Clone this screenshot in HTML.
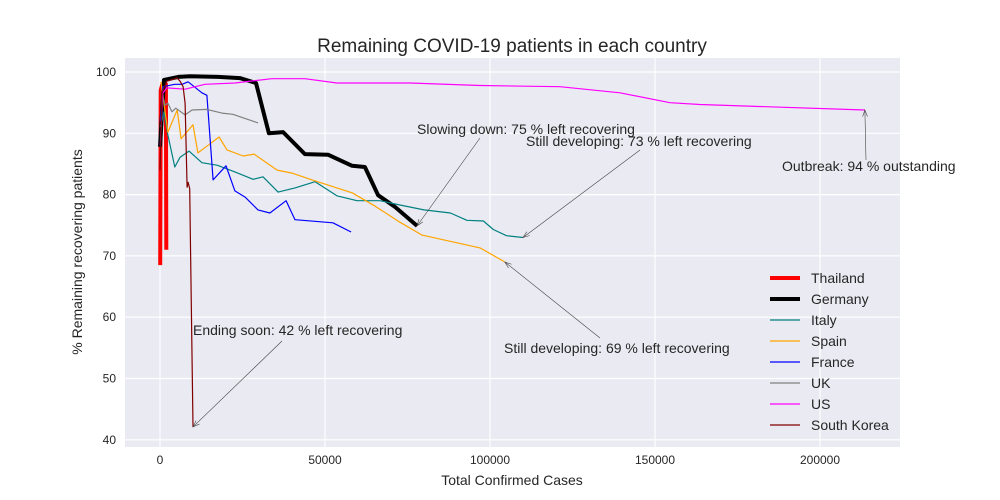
<!DOCTYPE html>
<html><head><meta charset="utf-8"><style>
body{margin:0;background:#fff;}
svg{display:block;font-family:"Liberation Sans",sans-serif;}
</style></head><body>
<svg id="chart" width="1000" height="500"></svg>
<script>
const xTicks=[0,50000,100000,150000,200000];
const yTicks=[40,50,60,70,80,90,100];
const seriesNames=["Thailand","Germany","Italy","Spain","France","UK","US","South Korea"];
const seriesColors=["#ff0000","#000000","#008080","#ffa500","#0000ff","#808080","#ff00ff","#800000"];
const seriesWidths=[4,4,1.2,1.2,1.2,1.2,1.2,1.2];
const thailandX=[50,200,700,1500,1800,1900];
const thailandY=[68.5,97,98,98,98,71];
const germanyX=[0,1200,5500,9100,17600,24200,29100,33000,37300,43900,51000,58200,62100,66100,71200,77900];
const germanyY=[87.8,98.7,99.2,99.3,99.2,99.0,98.2,90.0,90.2,86.6,86.5,84.7,84.5,79.9,78.0,74.9];
const italyX=[100,1200,2400,4500,6100,8800,12700,17300,22700,28200,31200,35800,40900,47000,53600,59700,66700,72700,80000,88000,93000,98000,101000,105000,110000];
const italyY=[91,93.5,89.7,84.5,86.1,87.1,85.2,84.8,83.7,82.5,82.9,80.4,81.1,82.1,79.8,79.0,79.0,78.3,77.5,77.0,75.8,75.7,74.3,73.3,73.0];
const spainX=[300,2400,5200,6400,10000,11500,14200,17900,20300,25200,28500,35500,40000,46100,58200,65200,72700,79400,97000,104500];
const spainY=[98.4,90.2,93.8,89.1,91.4,86.8,87.9,89.4,87.3,86.3,86.6,84.0,83.5,82.4,80.3,78.1,75.5,73.4,71.3,69.0];
const franceX=[100,900,4500,6700,8500,12700,14200,16100,20000,22700,25800,29700,33300,38200,40900,52400,57900];
const franceY=[92,97.6,98.0,98.0,98.4,96.6,96.2,82.4,84.7,80.6,79.6,77.5,77.0,79.0,75.9,75.4,73.9];
const ukX=[300,600,1500,2400,3600,4800,7600,9700,14200,18800,22100,29700];
const ukY=[90,96.6,94.6,94.9,93.5,94.1,93.0,93.8,93.9,93.3,93.1,91.7];
const usX=[100,800,2000,7600,13600,22700,33900,43900,53600,75800,97000,121200,139400,154500,163600,213600];
const usY=[88,96.5,97.4,97.2,98.0,98.2,98.9,98.9,98.2,98.2,97.8,97.6,96.6,95.0,94.7,93.8];
const koreaX=[0,600,2100,5200,6100,7000,7600,8200,8500,9000,10000];
const koreaY=[84,96.6,98.5,99.0,98.5,97.6,94.9,81.2,82,81,42.1];
const allX=[thailandX,germanyX,italyX,spainX,franceX,ukX,usX,koreaX];
const allY=[thailandY,germanyY,italyY,spainY,franceY,ukY,usY,koreaY];
const annoText=["Slowing down: 75 % left recovering","Still developing: 73 % left recovering","Outbreak: 94 % outstanding","Still developing: 69 % left recovering","Ending soon: 42 % left recovering"];
const annoPt=[[77900,74.9],[110000,73.0],[213600,93.8],[104500,69.0],[10000,42.1]];
const annoTxtPos=[[417,134],[526,146],[782,171],[504,353],[193,335]];
const annoTail=[[480,138],[640,150],[866,160],[600,338],[282,341]];

const L=125,R=900,T=58,B=447;
const sx=v=>160+v*165/50000;
const sy=v=>72+(100-v)*6.13;
const svg=document.getElementById('chart');
const NS='http://www.w3.org/2000/svg';
function mk(t,a,p){const e=document.createElementNS(NS,t);for(const k in a)e.setAttribute(k,a[k]);(p||svg).appendChild(e);return e;}
const bg=mk('rect',{x:L,y:T,width:R-L,height:B-T,fill:'#eaeaf2'});


xTicks.forEach(v=>{
  const g=mk('line',{x1:sx(v),x2:sx(v),y1:T,y2:B,stroke:'#fff','stroke-width':1.2});
  
  
  const t=mk('text',{x:sx(v),y:B+17,'text-anchor':'middle','font-size':12,fill:'#262626'});
  t.textContent=v;
  
  
});
yTicks.forEach(v=>{
  const g=mk('line',{x1:L,x2:R,y1:sy(v),y2:sy(v),stroke:'#fff','stroke-width':1.2});
  
  
  const t=mk('text',{x:L-9,y:sy(v)+4,'text-anchor':'end','font-size':12,fill:'#262626'});
  t.textContent=v;
  
  
});
for(let i=0;i<allX.length;i++){
  const pts=allX[i].map((x,j)=>sx(x).toFixed(1)+','+sy(allY[i][j]).toFixed(1)).join(' ');
  const p=mk('polyline',{points:pts,fill:'none',stroke:seriesColors[i],'stroke-width':seriesWidths[i],'stroke-linejoin':'round'});
  
  
}
annoText.forEach((s,i)=>{
  const tx=sx(annoPt[i][0]),ty=sy(annoPt[i][1]);
  const [ax,ay]=annoTail[i];
  const ln=mk('line',{x1:ax,y1:ay,x2:tx,y2:ty,stroke:'#444','stroke-width':0.6});
  
  
  const ang=Math.atan2(ty-ay,tx-ax);
  const h=mk('path',{d:`M${tx-7*Math.cos(ang-0.35)},${ty-7*Math.sin(ang-0.35)} L${tx},${ty} L${tx-7*Math.cos(ang+0.35)},${ty-7*Math.sin(ang+0.35)}`,fill:'none',stroke:'#444','stroke-width':0.6});
  
  
  const t=mk('text',{x:annoTxtPos[i][0],y:annoTxtPos[i][1],'font-size':14,fill:'#262626'});
  t.textContent=s;
  
  
});
seriesNames.forEach((n,i)=>{
  const y=278+i*21;
  const ln=mk('line',{x1:770,x2:800,y1:y,y2:y,stroke:seriesColors[i],'stroke-width':seriesWidths[i]});
  
  
  const t=mk('text',{x:811,y:y+5,'font-size':14,fill:'#262626'});
  t.textContent=n;
  
  
});
const title=mk('text',{x:512,y:52,'text-anchor':'middle','font-size':19,fill:'#262626'});
title.textContent='Remaining COVID-19 patients in each country';


const xt=mk('text',{x:512,y:485,'text-anchor':'middle','font-size':14,fill:'#262626'});
xt.textContent='Total Confirmed Cases';


const yt=mk('text',{x:82,y:252,'text-anchor':'middle','font-size':14,fill:'#262626',transform:'rotate(-90 82 252)'});
yt.textContent='% Remaining recovering patients';


</script>
</body></html>
